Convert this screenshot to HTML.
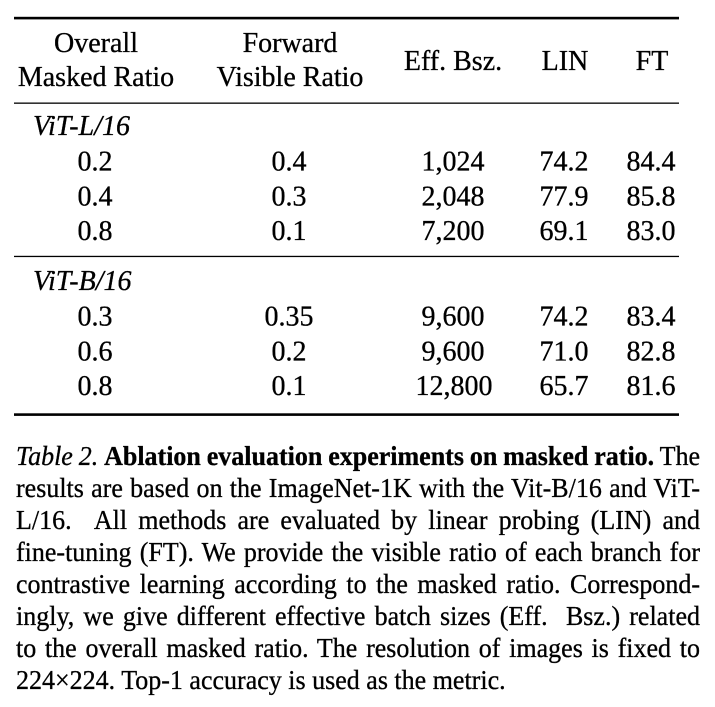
<!DOCTYPE html>
<html>
<head>
<meta charset="utf-8">
<style>
  html, body { margin:0; padding:0; background:#fff; }
  body { width:715px; height:707px; position:relative; overflow:hidden; }
  svg { position:absolute; left:0; top:0; }
  .cap { position:absolute; left:16px; top:441px; width:684px;
         font-family:"Liberation Serif", "Times New Roman", serif; font-size:26px;
         line-height:32px; color:#000; -webkit-text-stroke:0.3px #000; }
  .cap div { text-align:justify; text-align-last:justify; word-spacing:-3px; white-space:nowrap;
             transform:scaleY(1.06); transform-origin:0 24.8px; }
  .cap div.last { text-align:left; text-align-last:left; word-spacing:normal; }
</style>
</head>
<body>
<svg width="715" height="707" viewBox="0 0 715 707" xmlns="http://www.w3.org/2000/svg">
  <g fill="#000">
    <rect x="14" y="16.8" width="665" height="2.6"/>
    <rect x="14" y="102.5" width="665" height="1.3"/>
    <rect x="14" y="255.8" width="665" height="1.3"/>
    <rect x="14" y="413.3" width="665" height="2.6"/>
  </g>
  <g font-family="Liberation Serif, Times New Roman, serif" font-size="28" fill="#000" stroke="#000" stroke-width="0.3" text-anchor="middle">
    <text x="96" y="52">Overall</text>
    <text x="96" y="86">Masked Ratio</text>
    <text x="290" y="52">Forward</text>
    <text x="290" y="86">Visible Ratio</text>
    <text x="453" y="70">Eff. Bsz.</text>
    <text x="565" y="70">LIN</text>
    <text x="652" y="70">FT</text>

    <text x="33" y="135" text-anchor="start" font-style="italic">ViT-L/16</text>
    <text x="95" y="170.5">0.2</text><text x="289" y="170.5">0.4</text><text x="453" y="170.5">1,024</text><text x="564" y="170.5">74.2</text><text x="651" y="170.5">84.4</text>
    <text x="95" y="205.5">0.4</text><text x="289" y="205.5">0.3</text><text x="453" y="205.5">2,048</text><text x="564" y="205.5">77.9</text><text x="651" y="205.5">85.8</text>
    <text x="95" y="240">0.8</text><text x="289" y="240">0.1</text><text x="453" y="240">7,200</text><text x="564" y="240">69.1</text><text x="651" y="240">83.0</text>

    <text x="33" y="290" text-anchor="start" font-style="italic">ViT-B/16</text>
    <text x="95" y="325.5">0.3</text><text x="289" y="325.5">0.35</text><text x="453" y="325.5">9,600</text><text x="564" y="325.5">74.2</text><text x="651" y="325.5">83.4</text>
    <text x="95" y="360.5">0.6</text><text x="289" y="360.5">0.2</text><text x="453" y="360.5">9,600</text><text x="564" y="360.5">71.0</text><text x="651" y="360.5">82.8</text>
    <text x="95" y="395">0.8</text><text x="289" y="395">0.1</text><text x="454" y="395">12,800</text><text x="564" y="395">65.7</text><text x="651" y="395">81.6</text>
  </g>
</svg>
<div class="cap">
  <div><i>Table 2.</i> <b>Ablation evaluation experiments on masked ratio.</b> The</div>
  <div>results are based on the ImageNet-1K with the Vit-B/16 and ViT-</div>
  <div>L/16. &nbsp;All methods are evaluated by linear probing (LIN) and</div>
  <div>fine-tuning (FT). We provide the visible ratio of each branch for</div>
  <div>contrastive learning according to the masked ratio. Correspond-</div>
  <div>ingly, we give different effective batch sizes (Eff. &nbsp;Bsz.) related</div>
  <div>to the overall masked ratio. The resolution of images is fixed to</div>
  <div class="last">224×224. Top-1 accuracy is used as the metric.</div>
</div>
</body>
</html>
